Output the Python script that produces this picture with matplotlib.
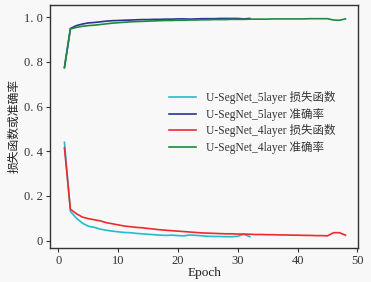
import matplotlib
matplotlib.use("Agg")
import matplotlib.pyplot as plt
import numpy as np

plt.rcParams['font.family'] = ['Liberation Serif', 'Noto Sans CJK SC']

epochs5 = list(range(1, 33))
epochs4 = list(range(1, 49))

loss5 = [0.44, 0.13, 0.10, 0.078, 0.064, 0.059, 0.051, 0.046, 0.042, 0.039,
         0.036, 0.035, 0.032, 0.030, 0.028, 0.026, 0.024, 0.023, 0.024, 0.022,
         0.021, 0.025, 0.023, 0.021, 0.019, 0.018, 0.018, 0.017, 0.017, 0.019,
         0.028, 0.017]
acc5 = [0.775, 0.950, 0.963, 0.970, 0.975, 0.977, 0.980, 0.983, 0.985, 0.986,
        0.987, 0.988, 0.989, 0.990, 0.990, 0.991, 0.991, 0.992, 0.992, 0.993,
        0.993, 0.992, 0.993, 0.994, 0.994, 0.994, 0.995, 0.995, 0.995, 0.995,
        0.993, 0.995]
loss4 = [0.415, 0.140, 0.120, 0.105, 0.098, 0.093, 0.088, 0.080, 0.075, 0.070,
         0.065, 0.062, 0.059, 0.057, 0.054, 0.051, 0.048, 0.046, 0.044, 0.042,
         0.040, 0.038, 0.036, 0.034, 0.033, 0.032, 0.031, 0.030, 0.030, 0.029,
         0.029, 0.028, 0.027, 0.027, 0.026, 0.026, 0.025, 0.025, 0.024, 0.024,
         0.023, 0.023, 0.022, 0.022, 0.021, 0.035, 0.035, 0.024]
acc4 = [0.775, 0.948, 0.955, 0.960, 0.963, 0.965, 0.968, 0.971, 0.974, 0.976,
        0.978, 0.980, 0.981, 0.982, 0.983, 0.984, 0.985, 0.986, 0.986, 0.987,
        0.987, 0.988, 0.988, 0.989, 0.989, 0.990, 0.990, 0.990, 0.991, 0.991,
        0.991, 0.992, 0.992, 0.992, 0.992, 0.993, 0.993, 0.993, 0.993, 0.993,
        0.993, 0.994, 0.994, 0.994, 0.994, 0.988, 0.987, 0.993]

labels = ['U-SegNet_5layer 损失函数', 'U-SegNet_5layer 准确率',
          'U-SegNet_4layer 损失函数', 'U-SegNet_4layer 准确率']
colors = ['#22bccc', '#2b3494', '#ee2a2e', '#1f8a3e']

bg = '#f8f8f8'
fig = plt.figure(figsize=(3.71, 2.82), dpi=100, facecolor=bg)
ax = fig.add_axes([0.135, 0.121, 0.83, 0.861], facecolor=bg)

ax.plot(epochs5, loss5, color=colors[0], lw=1.2, label=labels[0])
ax.plot(epochs5, acc5, color=colors[1], lw=1.2, label=labels[1])
ax.plot(epochs4, loss4, color=colors[2], lw=1.2, label=labels[2])
ax.plot(epochs4, acc4, color=colors[3], lw=1.2, label=labels[3])

ax.set_xlim(-1.4, 50.1)
ax.set_ylim(-0.033, 1.055)
ax.set_xticks([0, 10, 20, 30, 40, 50])
ax.set_yticks([0, 0.2, 0.4, 0.6, 0.8, 1.0])
ax.set_yticklabels(['0', '0. 2', '0. 4', '0. 6', '0. 8', '1. 0'])
ax.tick_params(labelsize=9, length=3, width=0.8, color='#333333', labelcolor='#333333', pad=2)
for s in ax.spines.values():
    s.set_color('#333333')
    s.set_linewidth(1.0)

ax.set_xlabel('Epoch', fontsize=9.5, color='#222222', labelpad=0)
ax.set_ylabel('损失函数或准确率', fontsize=8.5, color='#222222', labelpad=3)

leg = ax.legend(loc='center left', bbox_to_anchor=(0.385, 0.516), frameon=False,
                fontsize=8.3, handlelength=2.4, labelspacing=0.32, borderaxespad=0,
                borderpad=0, handletextpad=0.8)
for t in leg.get_texts():
    t.set_color('#333333')

fig.savefig('out.png', dpi=100, facecolor=bg)
